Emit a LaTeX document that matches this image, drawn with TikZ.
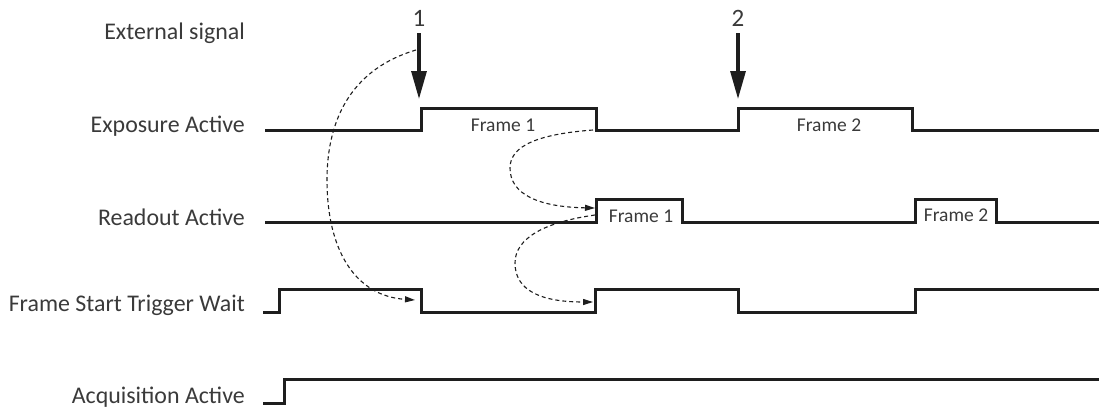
\documentclass[tikz,border=0pt]{standalone}
\usepackage{fontspec}
\setmainfont{Carlito}
\usetikzlibrary{arrows.meta}
\definecolor{txt}{HTML}{3A3A3A}
\definecolor{sig}{HTML}{1E1E1E}
\tikzset{
  lbl/.style={anchor=east, text=txt, inner sep=0pt, font=\fontsize{23.9}{28}\selectfont},
  frm/.style={text=txt, inner sep=0pt, font=\fontsize{19.5}{23}\selectfont},
  num/.style={text=txt, inner sep=0pt, font=\fontsize{25}{29}\selectfont},
  wave/.style={draw=sig, line width=3pt, line join=miter},
  trig/.style={draw=sig, line width=3.2pt, -{Triangle[length=28pt,width=15pt]}},
  flow/.style={draw=sig, line width=1.1pt, dash pattern=on 4pt off 3pt, -{Triangle[length=10pt,width=6pt]}}
}
\begin{document}
\begin{tikzpicture}[x=1pt,y=-1pt]
\useasboundingbox (0,0) rectangle (1099,408);
% labels
\node[lbl] (lext) at (245,33) {External signal};
\node[lbl] (lexp) at (245,126) {Exposure Active};
\node[lbl] (lread) at (245,217) {Readout Active};
\node[lbl] (lfst) at (245,305) {Frame Start Trigger Wait};
\node[lbl] (lacq) at (245,397) {Acquisition Active};
% External signal
\coordinate (t1s) at (419,33);
\coordinate (t1e) at (419,99);
\coordinate (t2s) at (738,33);
\coordinate (t2e) at (738,99);
\node[num] (n1) at (419,18) {1};
\node[num] (n2) at (738,18) {2};
\draw[trig] (t1s) -- (t1e);
\draw[trig] (t2s) -- (t2e);
% Exposure Active
\draw[wave] (265,130) -- (421,130) -- (421,108) -- (596,108) -- (596,130) -- (738,130) -- (738,108) -- (912,108) -- (912,130) -- (1099,130);
\node[frm] (ef1) at (503,125) {Frame 1};
\node[frm] (ef2) at (829,125) {Frame 2};
% Readout Active
\draw[wave] (265,222) -- (596,222) -- (596,199) -- (682,199) -- (682,222) -- (915,222) -- (915,199) -- (996,199) -- (996,222) -- (1099,222);
\node[frm] (rf1) at (641,216) {Frame 1};
\node[frm] (rf2) at (956,215) {Frame 2};
% Frame Start Trigger Wait
\draw[wave] (263,312) -- (279,312) -- (279,289) -- (421,289) -- (421,312) -- (595,312) -- (595,289) -- (738,289) -- (738,312) -- (915,312) -- (915,289) -- (1099,289);
% Acquisition Active
\draw[wave] (263,403) -- (284,403) -- (284,379) -- (1099,379);
% dashed causal arrows
\coordinate (c1s) at (416,50);
\coordinate (c1e) at (415,300);
\coordinate (c2s) at (593,130);
\coordinate (c2e) at (595,208);
\coordinate (c3s) at (595,215);
\coordinate (c3e) at (593,302);
\draw[flow] (c1s) .. controls (355,68) and (327,115) .. (327,180) .. controls (327,250) and (355,296) .. (c1e);
\draw[flow] (c2s) .. controls (540,134) and (510,145) .. (510,168) .. controls (510,195) and (540,207) .. (c2e);
\draw[flow] (c3s) .. controls (545,222) and (515,238) .. (515,263) .. controls (515,290) and (540,302) .. (c3e);
\end{tikzpicture}
\end{document}
